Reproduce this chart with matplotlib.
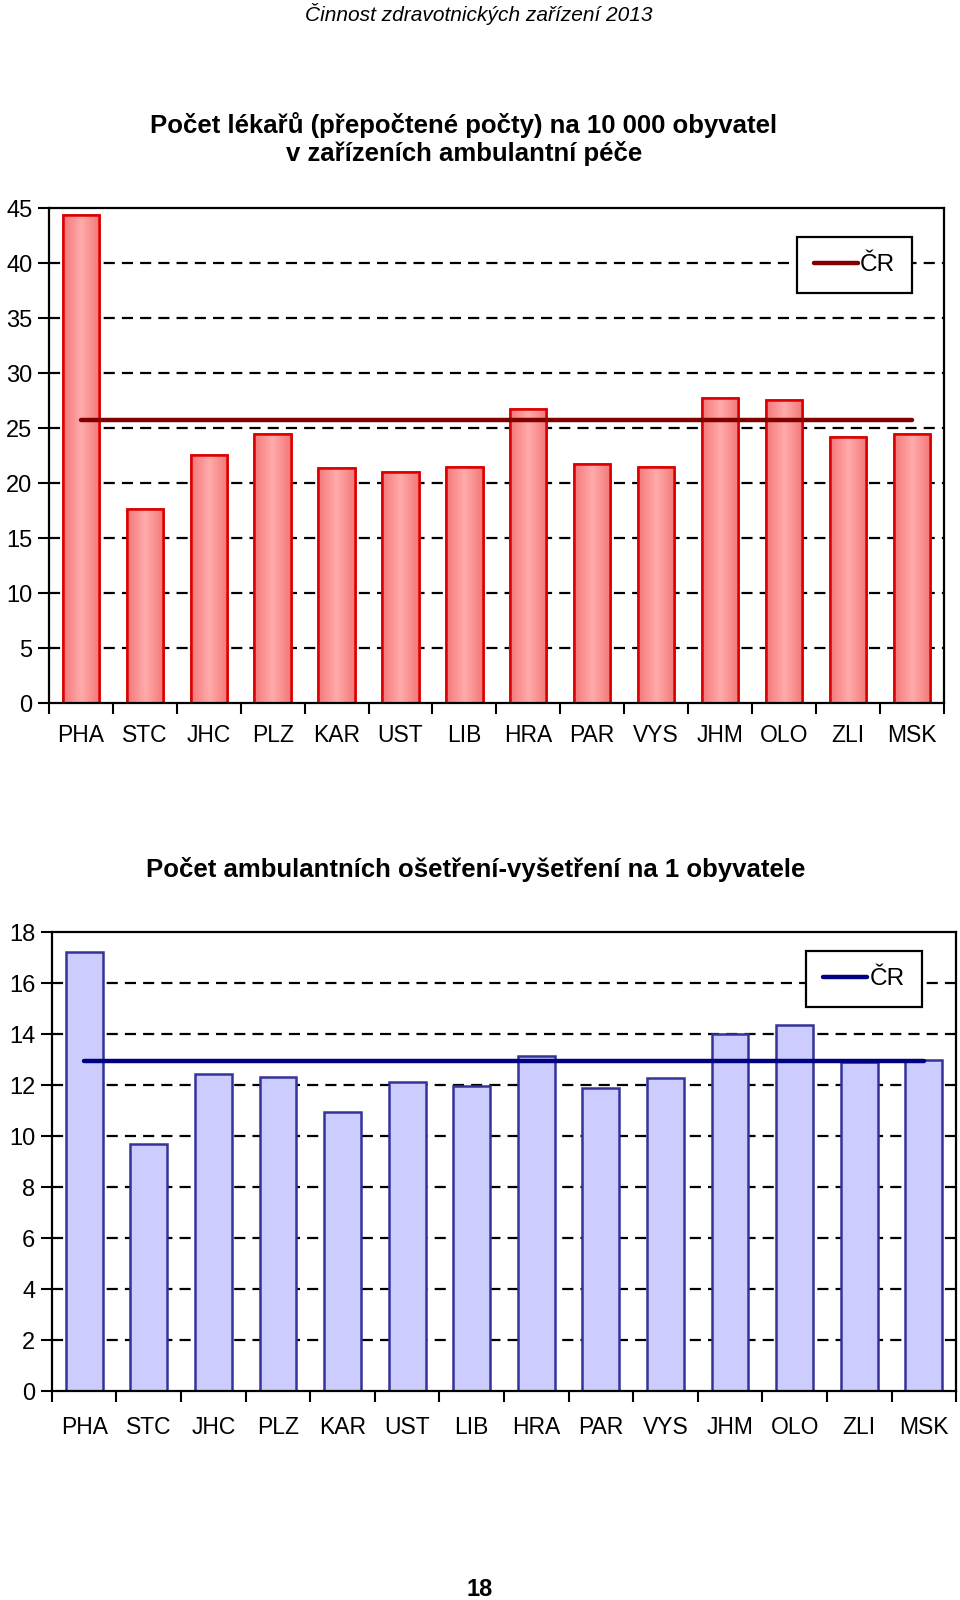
import matplotlib
matplotlib.use("Agg")
import matplotlib.pyplot as plt
import numpy as np

plt.rcParams['font.family'] = ['Liberation Sans', 'DejaVu Sans']

kraje = ['PHA', 'STC', 'JHC', 'PLZ', 'KAR', 'UST', 'LIB', 'HRA', 'PAR', 'VYS', 'JHM', 'OLO', 'ZLI', 'MSK']

lekari = [44.4, 17.7, 22.6, 24.5, 21.4, 21.0, 21.5, 26.8, 21.75, 21.45, 27.8, 27.6, 24.25, 24.45]
lekari_cr = 25.75

osetreni = [17.24, 9.71, 12.43, 12.33, 10.95, 12.14, 11.98, 13.15, 11.9, 12.3, 14.02, 14.38, 12.93, 12.98]
osetreni_cr = 12.95

header = 'Činnost zdravotnických zařízení 2013'
title1 = 'Počet lékařů (přepočtené počty) na 10 000 obyvatel\nv zařízeních ambulantní péče'
title2 = 'Počet ambulantních ošetření-vyšetření na 1 obyvatele'
page_no = '18'


def styl_os(ax, ymax, ystep, xpad):
    n = len(kraje)
    ax.set_xlim(-0.5, n - 0.5)
    ax.set_ylim(0, ymax)
    ax.set_yticks(np.arange(0, ymax + 0.1, ystep))
    ax.set_xticks(np.arange(n))
    ax.set_xticklabels(kraje)
    ax.set_xticks(np.arange(-0.5, n, 1), minor=True)
    ax.tick_params(axis='x', which='major', length=0, labelsize=16.5, pad=xpad)
    ax.tick_params(axis='x', which='minor', length=8, width=1.5, direction='out')
    ax.tick_params(axis='y', length=8, width=1.5, direction='out', labelsize=17, pad=4)
    for s in ax.spines.values():
        s.set_linewidth(1.6)
        s.set_color('black')
    for yv in np.arange(ystep, ymax, ystep):
        ax.axhline(yv, color='black', lw=1.6, ls=(0, (5, 3.2)), zorder=0)


def legenda(ax, anchor):
    leg = ax.legend(loc='upper right', bbox_to_anchor=anchor, fontsize=17.5, frameon=True,
                    fancybox=False, edgecolor='black', facecolor='white', framealpha=1,
                    handlelength=1.8, handletextpad=0.1, borderpad=0.7, borderaxespad=0)
    leg.get_frame().set_linewidth(1.6)
    return leg


fig = plt.figure(figsize=(9.6, 16), dpi=100)

# --- horni graf: lekari
ax1 = fig.add_axes([0.051, 0.5604, 0.932, 0.3094])
x = np.arange(len(kraje))
bars = ax1.bar(x, lekari, 0.57, color='#ff9a9a', edgecolor='#dd0000', linewidth=1.8, zorder=2)
grad = np.abs(np.linspace(-1, 1, 64))[None, :]
cmap = matplotlib.colors.LinearSegmentedColormap.from_list('g', ['#ffaaaa', '#f47878'])
for b in bars:
    im = ax1.imshow(grad, extent=[b.get_x(), b.get_x() + b.get_width(), 0, b.get_height()],
                    cmap=cmap, aspect='auto', zorder=2.1)
    im.set_clip_path(b)
for b in bars:
    ax1.add_patch(plt.Rectangle((b.get_x(), 0), b.get_width(), b.get_height(), fill=False,
                                edgecolor='#dd0000', linewidth=1.8, zorder=2.2))
ax1.plot([x[0], x[-1]], [lekari_cr, lekari_cr], color='#800000', lw=3.2,
         solid_capstyle='round', zorder=3, label='ČR')
styl_os(ax1, 45, 5, 15)
ax1.set_aspect('auto')
legenda(ax1, (0.965, 0.942))

# --- dolni graf: osetreni
ax2 = fig.add_axes([0.054, 0.1304, 0.942, 0.2869])
ax2.bar(x, osetreni, 0.57, color='#ccccff', edgecolor='#333399', linewidth=1.8, zorder=2)
ax2.plot([x[0], x[-1]], [osetreni_cr, osetreni_cr], color='#000080', lw=3.2,
         solid_capstyle='round', zorder=3, label='ČR')
styl_os(ax2, 18, 2, 18)
legenda(ax2, (0.962, 0.959))

fig.text(0.499, 1 - 14 / 1600, header, ha='center', va='center', fontsize=15, style='italic')
fig.text(0.483, 1 - 139 / 1600, title1, ha='center', va='center', fontsize=18.5,
         fontweight='bold', linespacing=1.2)
fig.text(0.496, 1 - 870 / 1600, title2, ha='center', va='center', fontsize=18.5, fontweight='bold')
fig.text(0.5, 1 - 1590 / 1600, page_no, ha='center', va='center', fontsize=17, fontweight='bold')

fig.savefig('out.png', dpi=100, facecolor='white')
